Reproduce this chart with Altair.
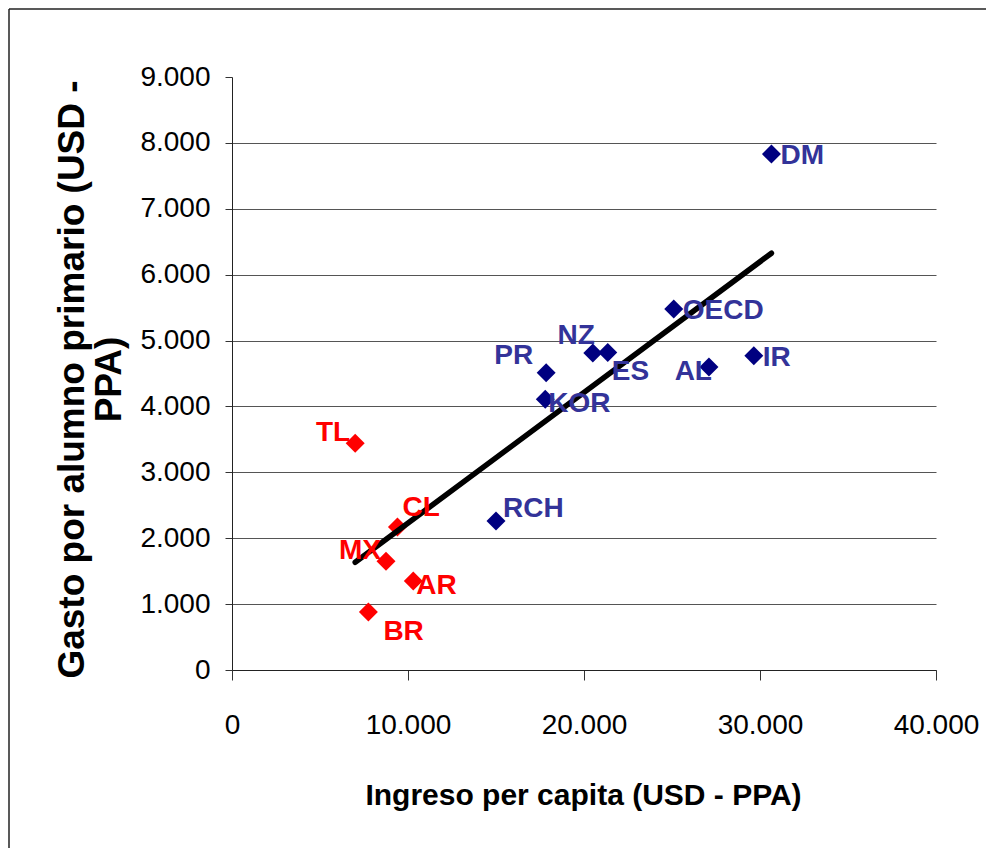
import altair as alt
import pandas as pd

# ---- data ----
paises = ["DM", "OECD", "NZ", "ES", "AL", "IR", "PR", "KOR", "RCH", "TL", "CL", "MX", "AR", "BR"]
ingreso = [30650, 25100, 20500, 21350, 27100, 29650, 17850, 17800, 15000, 7000, 9400, 8750, 10300, 7750]
gasto = [7830, 5480, 4810, 4820, 4600, 4770, 4510, 4110, 2260, 3440, 2170, 1650, 1350, 880]
grupo = ["OCDE"] * 9 + ["AL"] * 5
posicion = ["E", "E", "NNW", "SE", "W", "E", "NW", "E2", "ENE", "WNW", "NE", "WNW", "E2", "SE2"]

y_ticks = [0, 1000, 2000, 3000, 4000, 5000, 6000, 7000, 8000, 9000]
x_ticks = [0, 10000, 20000, 30000, 40000]
x_titulo = "Ingreso per capita (USD - PPA)"
y_titulo = ["Gasto por alumno primario (USD -", "PPA)"]

df = pd.DataFrame({"pais": paises, "ingreso": ingreso, "gasto": gasto,
                   "grupo": grupo, "pos": posicion})

# ---- styling ----
W, H = 704, 593
REG = "Liberation Sans, Arial, sans-serif"
fmt = "replace(format(datum.value, ','), ',', '.')"
# placement: (align, dx, cap-centre dy)
placements = {
    "E": ("left", 9, 0),
    "E2": ("left", 3, 3),
    "SE": ("left", 4, 18),
    "SE2": ("left", 15, 18),
    "NE": ("left", 5, -21),
    "ENE": ("left", 7, -14),
    "NNW": ("right", 2, -19),
    "NW": ("right", -13, -19),
    "WNW": ("right", -5, -12),
    "W": ("right", 3, 3),
}

x_enc = alt.X("ingreso:Q", scale=alt.Scale(domain=[0, 40000], nice=False),
              axis=alt.Axis(values=x_ticks, labelExpr=fmt, tickSize=10, tickColor="#333",
                            domainColor="#222", grid=False, labelFont=REG, labelFontSize=28,
                            labelColor="black", labelBaseline="alphabetic", labelPadding=53,
                            labelFlush=False, title=x_titulo, titleFont=REG, titleFontSize=30,
                            titleFontWeight="bold", titleColor="black", titleX=351, titleY=134,
                            titleBaseline="alphabetic", titleAlign="center"))
y_enc = alt.Y("gasto:Q", scale=alt.Scale(domain=[0, 9000], nice=False),
              axis=alt.Axis(values=y_ticks, labelExpr=fmt, tickSize=7, tickColor="#333",
                            domainColor="#222", grid=True, gridColor="#555", gridWidth=1,
                            gridOpacity={"condition": {"test": "datum.value >= 9000", "value": 0}, "value": 1},
                            labelFont=REG, labelFontSize=28, labelColor="black", labelPadding=15,
                            labelBaseline="middle",
                            title=y_titulo, titleFont=REG, titleFontSize=37, titleFontWeight="bold",
                            titleColor="black", titleAngle=270, titleX=-149, titleY=302,
                            titleBaseline="alphabetic", titleAlign="center", titleLineHeight=37))

base = alt.Chart(df)

points = base.mark_point(shape="diamond", filled=True, size=360, opacity=1).encode(
    x=x_enc, y=y_enc,
    color=alt.condition("datum.grupo == 'AL'", alt.value("#FF0000"), alt.value("#000080")),
)

trend = base.transform_regression("ingreso", "gasto").mark_line(
    color="black", strokeWidth=5.5, strokeCap="round").encode(x="ingreso:Q", y="gasto:Q")

labels = []
for key, (align, dx, dy) in placements.items():
    labels.append(
        base.transform_filter(alt.datum.pos == key).mark_text(
            align=align, baseline="middle", dx=dx, dy=dy + 2,
            font=REG, fontSize=28, fontWeight="bold").encode(
            x="ingreso:Q", y="gasto:Q", text="pais:N",
            color=alt.condition("datum.grupo == 'AL'", alt.value("#FF0000"), alt.value("#333399")),
        )
    )

frame_src = alt.Data(values=[{"k": 1}])
frame_left = alt.Chart(frame_src).mark_rule(color="#222", strokeWidth=1.5).encode(
    x=alt.value(-223), y=alt.value(-68), y2=alt.value(H + 178))
frame_top = alt.Chart(frame_src).mark_rule(color="#222", strokeWidth=1.5).encode(
    x=alt.value(-223), x2=alt.value(W + 50), y=alt.value(-68))

chart = alt.layer(points, trend, *labels, frame_left, frame_top).properties(
    width=W, height=H, padding=0
).configure_view(stroke=None)

chart.save("out.html", embed_options={"renderer": "svg", "actions": False})
